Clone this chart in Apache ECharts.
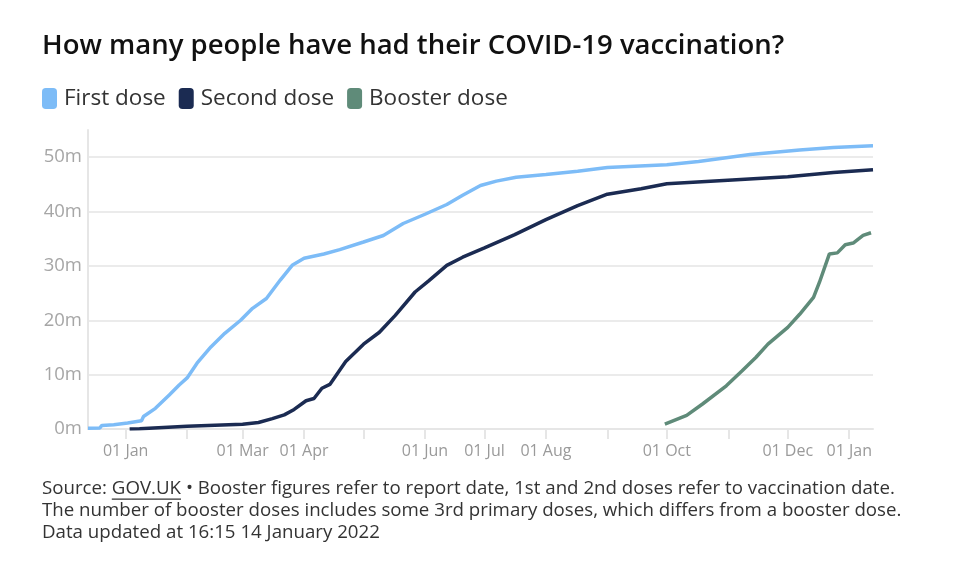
<!DOCTYPE html>
<html>
<head>
<meta charset="utf-8">
<script src="https://cdn.jsdelivr.net/npm/echarts@6/dist/echarts.min.js"></script>
<style>
  html, body { margin: 0; padding: 0; background: #fff; }
  #chart { width: 958px; height: 588px; }
</style>
</head>
<body>
<div id="chart"></div>
<script>
// ---- data (values in millions) ----
const firstDoseDates = ['2020-12-13','2020-12-19','2020-12-20','2020-12-26','2020-12-27','2021-01-02','2021-01-03','2021-01-09','2021-01-10','2021-01-16','2021-01-23','2021-01-28','2021-02-01','2021-02-06','2021-02-13','2021-02-20','2021-02-28','2021-03-06','2021-03-13','2021-03-20','2021-03-26','2021-04-01','2021-04-11','2021-04-19','2021-05-01','2021-05-11','2021-05-21','2021-06-01','2021-06-12','2021-06-20','2021-06-29','2021-07-07','2021-07-17','2021-08-01','2021-08-17','2021-09-01','2021-10-01','2021-10-17','2021-11-12','2021-12-07','2021-12-24','2022-01-13'];
const firstDoseValues = [0.15,0.2,0.65,0.8,1.0,1.1,1.35,1.5,2.3,3.8,6.25,8.1,9.4,12.1,15.1,17.6,20.0,22.2,24.0,27.4,30.1,31.4,32.2,33.0,34.4,35.6,37.8,39.5,41.3,43.0,44.8,45.6,46.3,46.8,47.4,48.1,48.6,49.2,50.5,51.3,51.8,52.1];

const secondDoseDates = ['2021-01-03','2021-01-08','2021-01-09','2021-02-01','2021-03-01','2021-03-09','2021-03-16','2021-03-22','2021-03-27','2021-04-02','2021-04-06','2021-04-10','2021-04-14','2021-04-18','2021-04-22','2021-05-01','2021-05-09','2021-05-17','2021-05-27','2021-06-03','2021-06-12','2021-06-20','2021-07-01','2021-07-16','2021-08-01','2021-08-17','2021-09-01','2021-09-18','2021-10-01','2021-11-03','2021-12-01','2021-12-24','2022-01-13'];
const secondDoseValues = [0.0,0.05,0.4,0.5,0.87,1.2,1.9,2.6,3.6,5.2,5.6,7.5,8.2,10.3,12.4,15.6,17.8,20.9,25.2,27.3,30.1,31.6,33.3,35.7,38.5,41.1,43.2,44.2,45.1,45.8,46.4,47.2,47.7];

const boosterDates = ['2021-09-30','2021-10-11','2021-10-19','2021-10-31','2021-11-08','2021-11-15','2021-11-21','2021-12-01','2021-12-07','2021-12-14','2021-12-17','2021-12-22','2021-12-26','2021-12-30','2022-01-03','2022-01-08','2022-01-12'];
const boosterValues = [0.9,2.5,4.6,7.95,10.7,13.2,15.6,18.7,21.1,24.2,27.0,32.2,32.4,33.9,34.2,35.6,36.1];

const xTickDates = ['2021-01-01','2021-02-01','2021-03-01','2021-04-01','2021-05-01','2021-06-01','2021-07-01','2021-08-01','2021-09-01','2021-10-01','2021-11-01','2021-12-01','2022-01-01'];
const xLabelDates = ['2021-01-01','2021-03-01','2021-04-01','2021-06-01','2021-07-01','2021-08-01','2021-10-01','2021-12-01','2022-01-01'];
const xRange = ['2020-12-13','2022-01-13'];
const yTickValues = [0,10,20,30,40,50];
const monthNames = ['Jan','Feb','Mar','Apr','May','Jun','Jul','Aug','Sep','Oct','Nov','Dec'];

const seriesNames = ['First dose','Second dose','Booster dose'];
const seriesColors = ['#7dbcf7','#1b2b52','#5f8b79'];

const titleText = 'How many people have had their COVID-19 vaccination?';
const noteLine1a = 'Source: ';
const noteLink = 'GOV.UK';
const noteLine1b = ' \u2022 Booster figures refer to report date, 1st and 2nd doses refer to vaccination date.';
const noteLine2 = 'The number of booster doses includes some 3rd primary doses, which differs from a booster dose.';
const noteLine3 = 'Data updated at 16:15 14 January 2022';

// ---- helpers ----
function ts(s) { const p = s.split('-').map(Number); return new Date(p[0], p[1]-1, p[2]).getTime(); }
function pairs(dates, vals) { return dates.map((d, i) => [ts(d), vals[i]]); }

const FF = '"Open Sans"';
const noteFont = '18.7px "Open Sans"';
const cv = document.createElement('canvas').getContext('2d');
cv.font = noteFont;
const wA = cv.measureText(noteLine1a).width;
const wLink = cv.measureText(noteLink).width;

const chart = echarts.init(document.getElementById('chart'), null, { renderer: 'canvas' });
const textColor = '#333333';
const noteLeft = 42;

chart.setOption({
  animation: false,
  backgroundColor: '#ffffff',
  title: {
    text: titleText,
    left: 42, top: 32, padding: 0,
    textStyle: { fontFamily: FF, fontWeight: 600, fontSize: 27.5, color: '#111111' }
  },
  legend: {
    left: 42, top: 87, padding: 0,
    icon: 'roundRect', itemWidth: 15, itemHeight: 21, itemGap: 13,
    textStyle: { fontFamily: FF, fontSize: 22.5, color: textColor, padding: [0, 0, 0, 2] },
    data: seriesNames
  },
  grid: { left: 88, right: 85, top: 130, bottom: 159, containLabel: false },
  xAxis: {
    type: 'value',
    min: ts(xRange[0]), max: ts(xRange[1]),
    axisLine: { show: true, onZero: false, lineStyle: { color: '#e6e6e6', width: 2 } },
    axisTick: { show: true, length: 10, lineStyle: { color: '#e6e6e6', width: 2 }, customValues: xTickDates.map(ts) },
    axisLabel: {
      customValues: xLabelDates.map(ts),
      margin: 14,
      color: '#9a9a9a', fontFamily: FF, fontSize: 16,
      formatter: function (v) { const d = new Date(v); return '01 ' + monthNames[d.getMonth()]; }
    },
    splitLine: { show: false }
  },
  yAxis: {
    type: 'value', min: 0, max: 55, interval: 10,
    axisLine: { show: true, lineStyle: { color: '#e6e6e6', width: 2 } },
    axisTick: { show: false },
    axisLabel: {
      customValues: yTickValues,
      margin: 6, color: '#a6a6a6', fontFamily: FF, fontSize: 18.5,
      formatter: function (v) { return v + 'm'; }
    },
    splitLine: { show: true, showMaxLine: false, lineStyle: { color: '#ebebeb', width: 2 } }
  },
  series: [
    { name: seriesNames[0], type: 'line', showSymbol: false, data: pairs(firstDoseDates, firstDoseValues),
      lineStyle: { color: seriesColors[0], width: 3.5 }, itemStyle: { color: seriesColors[0] }, z: 3 },
    { name: seriesNames[1], type: 'line', showSymbol: false, data: pairs(secondDoseDates, secondDoseValues),
      lineStyle: { color: seriesColors[1], width: 3.5 }, itemStyle: { color: seriesColors[1] }, z: 4 },
    { name: seriesNames[2], type: 'line', showSymbol: false, data: pairs(boosterDates, boosterValues),
      lineStyle: { color: seriesColors[2], width: 3.5 }, itemStyle: { color: seriesColors[2] }, z: 5 }
  ],
  graphic: [
    { type: 'text', left: noteLeft, top: 479, style: { text: noteLine1a, font: noteFont, fill: textColor } },
    { type: 'text', left: noteLeft + wA, top: 479, style: { text: noteLink, font: noteFont, fill: textColor } },
    { type: 'rect', left: noteLeft + wA, top: 498.5, shape: { width: wLink, height: 1.2 }, style: { fill: textColor } },
    { type: 'text', left: noteLeft + wA + wLink, top: 479, style: { text: noteLine1b, font: noteFont, fill: textColor } },
    { type: 'text', left: noteLeft, top: 501, style: { text: noteLine2, font: noteFont, fill: textColor } },
    { type: 'text', left: noteLeft, top: 523, style: { text: noteLine3, font: noteFont, fill: textColor } }
  ]
});
</script>
</body>
</html>
